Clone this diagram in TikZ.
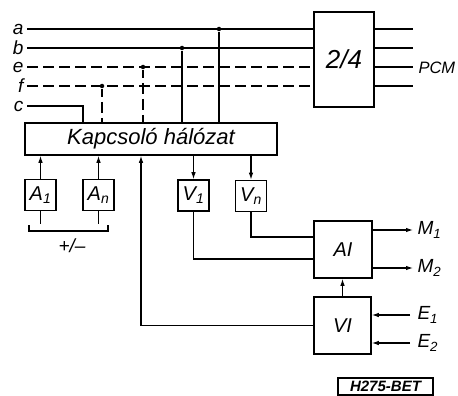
\documentclass[tikz,border=0pt]{standalone}
\usepackage{fontspec}
\setmainfont{Liberation Sans}
\usetikzlibrary{arrows.meta,positioning,calc}

\begin{document}
\begin{tikzpicture}[x=1pt, y=-1pt,
  line width=1.1pt,
  blk/.style={draw, line width=1.6pt, inner sep=0pt, font=\itshape\fontsize{20}{20}\selectfont},
  sbox/.style={blk, minimum width=31pt, minimum height=31pt},
  lbl/.style={inner sep=0pt, font=\itshape\fontsize{19}{19}\selectfont},
  arr/.style={-{Latex[length=7pt,width=4.5pt]}},
  dot/.style={circle, fill, inner sep=0pt, minimum size=4.5pt},
  dsh/.style={dash pattern=on 11pt off 5pt}
]
\useasboundingbox (0,0) rectangle (458,396);

% blocks
\node[blk, minimum width=60pt, minimum height=95pt, font=\itshape\fontsize{26}{26}\selectfont] (conv) at (344,59.5) {2/4};
\node[blk, minimum width=252pt, minimum height=32pt, font=\itshape\fontsize{22}{22}\selectfont] (kap) at (151,139) {Kapcsoló hálózat};
\node[sbox] (A1) at (40.5,195) {A\textsubscript{1}};
\node[sbox] (An) at (98.5,195) {A\textsubscript{n}};
\node[sbox] (V1) at (193.5,195.5) {V\textsubscript{1}};
\node[sbox] (Vn) at (251,196) {V\textsubscript{n}};
\node[blk, minimum width=58pt, minimum height=57pt] (AI) at (343,249.5) {AI};
\node[blk, minimum width=57pt, minimum height=57pt] (VI) at (342.5,325.5) {VI};

% input lines
\coordinate (a) at (27,29);
\coordinate (b) at (27,48);
\coordinate (e) at (27,67);
\coordinate (f) at (27,86);
\coordinate (c) at (27,106);
\node[lbl, left=3pt of a] {a};
\node[lbl, left=3pt of b] {b};
\node[lbl, left=3pt of e] {e};
\node[lbl, left=3pt of f] {f};
\node[lbl, left=3pt of c] {c};

\draw (a) -- (a -| conv.west);
\draw (b) -- (b -| conv.west);
\draw[dsh] (e) -- (e -| conv.west);
\draw[dsh] (f) -- (f -| conv.west);
\draw (c) -| (83,0 |- kap.north);

\node[dot] (da) at (219,29) {};
\node[dot] (db) at (182,48) {};
\node[dot] (de) at (143,67) {};
\node[dot] (df) at (102,86) {};
\draw (da) -- (da |- kap.north);
\draw (db) -- (db |- kap.north);
\draw[dsh, dash phase=3pt] (de) -- (de |- kap.north);
\draw[dsh, dash phase=3pt] (df) -- (df |- kap.north);

% PCM outputs
\foreach \yy in {29,48,67,86}
  \draw (conv.east |- 0,\yy) -- (413,\yy);
\node[lbl, font=\itshape\fontsize{16.5}{16.5}\selectfont, anchor=west] (pcm) at (418,68) {PCM};

% A and V blocks
\draw[arr] (A1.north) -- (A1.north |- kap.south);
\draw[arr] (An.north) -- (An.north |- kap.south);
\draw[arr] (V1.north |- kap.south) -- (V1.north);
\draw[arr] (Vn.north |- kap.south) -- (Vn.north);
\draw (A1.south) -- ++(0,13);
\draw (An.south) -- ++(0,13);
\draw (29,225) |- (108,231) -- (108,225);
\node[lbl] (pm) at (72,246) {+/–};

\draw (V1.south) |- ($(AI.west)+(0,9.5)$);
\draw (Vn.south) |- ($(AI.west)+(0,-12.5)$);

% AI / VI
\draw[arr] (VI.north) -- (VI.north |- AI.south);
\draw[arr] (VI.west) -| (141,0 |- kap.south);

\coordinate (m1) at (413,230);
\coordinate (m2) at (413,268);
\draw[arr] (m1 -| AI.east) -- (m1);
\draw[arr] (m2 -| AI.east) -- (m2);
\node[lbl, right=4pt of m1] {M\textsubscript{1}};
\node[lbl, right=4pt of m2] {M\textsubscript{2}};

\coordinate (e1) at (410,315);
\coordinate (e2) at (410,343);
\draw[arr] (e1) -- (e1 -| VI.east);
\draw[arr] (e2) -- (e2 -| VI.east);
\node[lbl, right=7pt of e1] {E\textsubscript{1}};
\node[lbl, right=7pt of e2] {E\textsubscript{2}};

% figure code
\node[draw, line width=1.4pt, minimum width=95pt, minimum height=17pt, inner sep=0pt,
  font=\bfseries\itshape\fontsize{15}{15}\selectfont] (code) at (385.5,386.5) {H275-BET};
\end{tikzpicture}
\end{document}
